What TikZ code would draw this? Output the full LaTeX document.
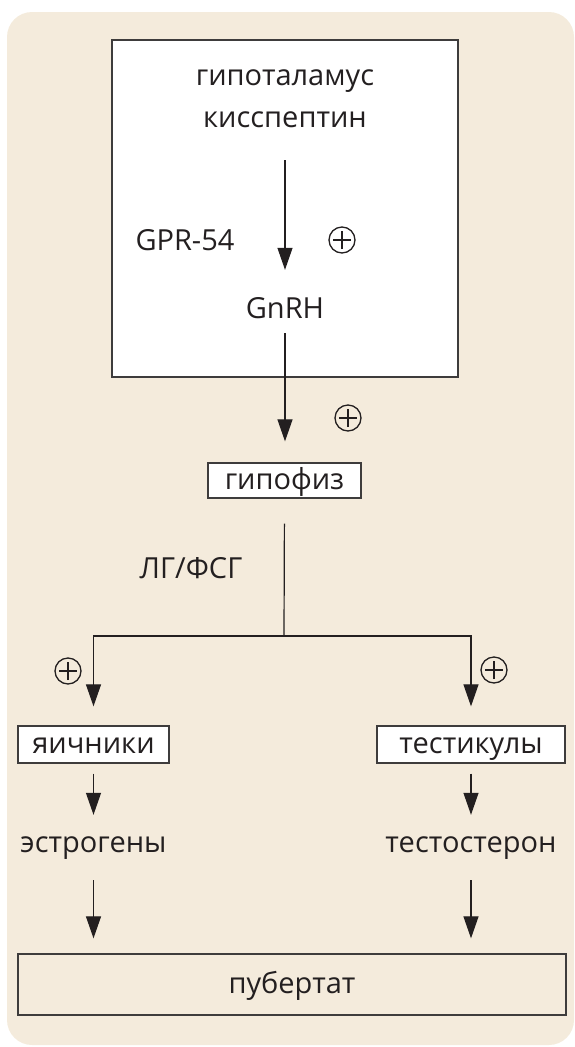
\documentclass[tikz,border=0pt]{standalone}
\usepackage{fontspec}
\setmainfont{Open Sans}
\usetikzlibrary{arrows.meta}
\definecolor{panel}{RGB}{244,235,220}
\definecolor{ink}{RGB}{35,31,32}
\definecolor{frame}{RGB}{62,60,60}
\tikzset{
  txt/.style={font=\fontsize{29}{35}\selectfont, text=ink, inner sep=0pt,
              text height=23pt, text depth=6pt},
  organ/.style={txt, draw=frame, line width=1.3pt, fill=white},
  link/.style={draw=ink, line width=1.2pt},
  arr/.style={link, -{Triangle[length=22pt,width=15pt]}},
  plusmark/.style={circle, draw=ink, line width=1.3pt, minimum size=26pt,
                   inner sep=0pt,
                   path picture={\draw[ink, line width=1.3pt]
                     ([xshift=-9pt]path picture bounding box.center) --
                     ([xshift=9pt]path picture bounding box.center)
                     ([yshift=-9pt]path picture bounding box.center) --
                     ([yshift=9pt]path picture bounding box.center);}}
}
\begin{document}
\begin{tikzpicture}[x=1pt,y=-1pt]
\useasboundingbox (0,0) rectangle (574,1047);
% panel
\fill[panel, rounded corners=25pt] (7,12) rectangle (574,1045);

% hypothalamus frame
\node[draw=frame, line width=1.4pt, fill=white, minimum width=346pt,
      minimum height=337pt, inner sep=0pt] (hypo) at (285,208.5) {};
\node[txt, anchor=base] (hyp) at (285,85) {гипоталамус};
\node[txt, anchor=base] (kiss) at (285,127) {кисспептин};
\node[txt, anchor=base] (gpr) at (185,250) {GPR-54};
\node[txt, anchor=base] (gnrh) at (285,318) {GnRH};
\node[plusmark] (p1) at (342,240) {};

% pituitary
\node[organ, minimum width=153pt, minimum height=35pt] (pit) at (284.5,480.5) {гипофиз};
\node[plusmark] (p2) at (348,418) {};
\node[txt, anchor=base] (lh) at (191,578) {ЛГ/ФСГ};
\coordinate (split) at (284,636);

% gonads
\node[organ, minimum width=151pt, minimum height=37pt] (ov) at (93.5,744.5) {яичники};
\node[organ, minimum width=188pt, minimum height=37pt] (tes) at (471,744.5) {тестикулы};
\node[plusmark] (p3) at (68,671) {};
\node[plusmark] (p4) at (494,670) {};

% hormones
\node[txt, anchor=base] (estr) at (93.5,852) {эстрогены};
\node[txt, anchor=base] (test) at (471,852) {тестостерон};

% puberty (outlined only)
\node[txt, draw=frame, line width=1.3pt, minimum width=548pt, minimum height=61pt] (pub) at (292,984.5) {пубертат};

% connectors
\draw[arr, shorten <=27pt, shorten >=25pt] (kiss.south) -- (gnrh.north);
\draw[arr, shorten <=9pt, shorten >=21pt] (gnrh.south) -- (gnrh.south |- pit.north);
\draw[link, shorten <=25pt] (pit.south) -- (split);
\draw[arr, shorten >=19pt] (split) -| (ov.north);
\draw[arr, shorten >=19pt] (split) -| (tes.north);
\draw[arr, shorten <=10pt, shorten >=14pt] (ov.south) -- (estr.north);
\draw[arr, shorten <=10pt, shorten >=14pt] (tes.south) -- (test.north);
\draw[arr, shorten <=22pt, shorten >=15pt] (estr.south) -- (estr.south |- pub.north);
\draw[arr, shorten <=22pt, shorten >=15pt] (test.south) -- (test.south |- pub.north);
\end{tikzpicture}
\end{document}
